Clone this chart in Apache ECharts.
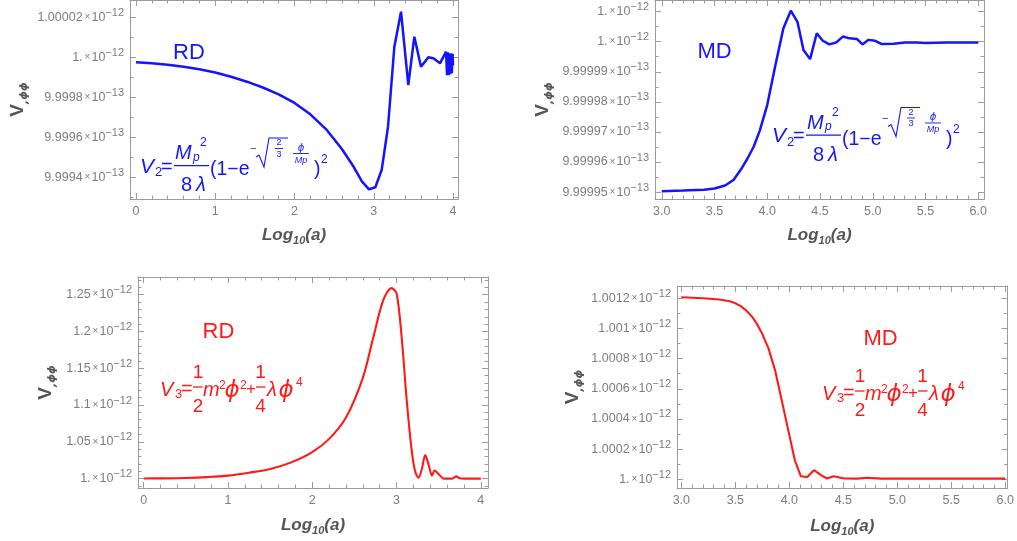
<!DOCTYPE html>
<html><head><meta charset="utf-8">
<script src="https://cdn.jsdelivr.net/npm/echarts@6/dist/echarts.min.js"></script>
<style>html,body{margin:0;padding:0;background:#fff}#c{width:1017px;height:541px}</style>
</head><body><div id="c"></div>
<script>
// All V,ϕϕ values are in units of 1e-12
const rdBlueX = [0, 0.2, 0.4, 0.6, 0.8, 1.0, 1.2, 1.4, 1.6, 1.8, 2.0, 2.2, 2.4, 2.6, 2.75, 2.85, 2.94, 3.02, 3.1, 3.18, 3.26, 3.344, 3.436, 3.512, 3.596, 3.689, 3.752, 3.836, 3.912, 3.925, 3.935, 3.945, 3.955, 3.965, 3.975, 3.985, 3.995, 4.0];
const rdBlueY = [0.9999975, 0.999997, 0.9999963, 0.9999953, 0.999994, 0.9999924, 0.9999903, 0.9999878, 0.9999849, 0.9999815, 0.9999772, 0.9999715, 0.999964, 0.999954, 0.999945, 0.999938, 0.999934, 0.999935, 0.99994365, 0.9999653, 1.0000053, 1.0000228, 0.99998615, 1.0000103, 0.9999953, 1.0, 0.9999995, 0.999997, 1.0000028, 0.999991, 1.0000025, 0.999991, 1.000002, 0.9999915, 1.000002, 0.999992, 1.0000018, 0.999996];

const mdBlueX = [3.0, 3.2, 3.4, 3.5, 3.6, 3.68, 3.75, 3.81, 3.87, 3.93, 4.0, 4.074, 4.153, 4.223, 4.286, 4.343, 4.406, 4.469, 4.526, 4.589, 4.652, 4.716, 4.779, 4.849, 4.902, 4.959, 5.022, 5.086, 5.196, 5.307, 5.418, 5.5, 5.7, 5.85, 6.0];
const mdBlueY = [0.99999503, 0.99999505, 0.99999508, 0.99999512, 0.99999522, 0.9999954, 0.99999575, 0.9999961, 0.9999965, 0.99999705, 0.9999979, 0.99999917, 1.00000045, 1.00000103, 1.00000066, 0.99999972, 0.99999942, 1.00000028, 1.00000003, 0.99999991, 0.99999997, 1.00000017, 1.00000011, 1.00000009, 0.99999991, 1.00000006, 1.00000003, 0.99999992, 0.99999993, 0.99999997, 0.99999997, 0.99999996, 0.99999997, 0.99999997, 0.99999997];

const rdRedX = [0, 0.25, 0.5, 0.75, 1.0, 1.25, 1.5, 1.75, 2.0, 2.2, 2.4, 2.6, 2.72, 2.84, 2.94, 3.0, 3.06, 3.12, 3.18, 3.22, 3.26, 3.3, 3.34, 3.38, 3.42, 3.45, 3.5, 3.56, 3.62, 3.66, 3.71, 3.75, 3.8, 3.9, 4.0];
const rdRedY = [1.0002, 1.0003, 1.0008, 1.002, 1.004, 1.008, 1.013, 1.022, 1.036, 1.054, 1.083, 1.137, 1.19, 1.242, 1.259, 1.252, 1.193, 1.107, 1.038, 1.01, 1.001, 1.013, 1.032, 1.019, 1.004, 1.011, 1.006, 1.0, 1.0, 1.0, 1.003, 1.0005, 1.0, 1.0, 1.0];

const mdRedX = [3.0, 3.2, 3.35, 3.45, 3.5, 3.55, 3.6, 3.655, 3.7, 3.747, 3.807, 3.868, 3.929, 3.99, 4.051, 4.106, 4.166, 4.228, 4.294, 4.349, 4.41, 4.508, 4.63, 4.72, 4.85, 5.0, 5.5, 6.0];
const mdRedY = [1.0012074, 1.0012, 1.001192, 1.00118, 1.001167, 1.001148, 1.00112, 1.001078, 1.00103, 1.000968, 1.000868, 1.000724, 1.000525, 1.000326, 1.000126, 1.00002, 1.000015, 1.00006, 1.000027, 1.000005, 1.00002, 1.000005, 1.000004, 1.00001, 1.000004, 1.000004, 1.000004, 1.000004];

// tick values and labels
const xTicksRD = [0, 1, 2, 3, 4];
const xLabelsRD = ['0', '1', '2', '3', '4'];
const xTicksMD = [3.0, 3.5, 4.0, 4.5, 5.0, 5.5, 6.0];
const xLabelsMD = ['3.0', '3.5', '4.0', '4.5', '5.0', '5.5', '6.0'];

const yTicks1 = [0.99994, 0.99996, 0.99998, 1.0, 1.00002];
const yMant1 = ['9.9994', '9.9996', '9.9998', '1.', '1.00002'];
const yExp1 = ['−13', '−13', '−13', '−12', '−12'];

const yTicks2 = [0.999995, 0.999996, 0.999997, 0.999998, 0.999999, 1.0, 1.000001];
const yMant2 = ['9.99995', '9.99996', '9.99997', '9.99998', '9.99999', '1.', '1.'];
const yExp2 = ['−13', '−13', '−13', '−13', '−13', '−12', '−12'];

const yTicks3 = [1.0, 1.05, 1.1, 1.15, 1.2, 1.25];
const yMant3 = ['1.', '1.05', '1.1', '1.15', '1.2', '1.25'];
const yExp3 = ['−12', '−12', '−12', '−12', '−12', '−12'];

const yTicks4 = [1.0, 1.0002, 1.0004, 1.0006, 1.0008, 1.001, 1.0012];
const yMant4 = ['1.', '1.0002', '1.0004', '1.0006', '1.0008', '1.001', '1.0012'];
const yExp4 = ['−12', '−12', '−12', '−12', '−12', '−12', '−12'];

const FF = '"Liberation Sans", Arial, sans-serif';
const FPHI = '"DejaVu Sans", sans-serif';
const frameColor = '#9b9b9b';
const labelColor = '#7d7d7d';
const titleColor = '#555555';
const BLUE = '#1414ff';
const RED = '#ff1a1a';

const panels = [
  {grid: {left: 130, top: 0, width: 328, height: 199}, xr: [-0.0757, 4.063], yr: [0.99992915, 1.00002865],
   xt: xTicksRD, xl: xLabelsRD, xm: 0.2, yt: yTicks1, yMant: yMant1, yExp: yExp1, ym: 0.00001,
   X: rdBlueX, Y: rdBlueY, color: BLUE, lw: 2.5, smooth: false, xGap: 25, yGap: 100},
  {grid: {left: 655, top: 0, width: 329, height: 199}, xr: [2.936, 6.054], yr: [0.99999477, 1.0000013854],
   xt: xTicksMD, xl: xLabelsMD, xm: 0.1, yt: yTicks2, yMant: yMant2, yExp: yExp2, ym: 0.0000005,
   X: mdBlueX, Y: mdBlueY, color: BLUE, lw: 2.5, smooth: false, xGap: 25, yGap: 100},
  {grid: {left: 138, top: 277, width: 350, height: 211}, xr: [-0.068, 4.085], yr: [0.98719, 1.2741],
   xt: xTicksRD, xl: xLabelsRD, xm: 0.2, yt: yTicks3, yMant: yMant3, yExp: yExp3, ym: 0.01,
   X: rdRedX, Y: rdRedY, color: RED, lw: 2.1, smooth: 0.3, xGap: 26, yGap: 80},
  {grid: {left: 677, top: 286, width: 335, height: 202}, xr: [2.96, 6.021], yr: [0.999942, 1.0012817],
   xt: xTicksMD, xl: xLabelsMD, xm: 0.1, yt: yTicks4, yMant: yMant4, yExp: yExp4, ym: 0.0001,
   X: mdRedX, Y: mdRedY, color: RED, lw: 2.1, smooth: false, xGap: 27, yGap: 92}
];

function minors(lo, hi, step, majors) {
  const out = [];
  const n0 = Math.ceil(lo / step - 1e-9), n1 = Math.floor(hi / step + 1e-9);
  for (let n = n0; n <= n1; n++) {
    const v = n * step;
    if (!majors.some(m => Math.abs(m - v) < step * 1e-3)) out.push(v);
  }
  return out;
}
function nearest(arr, v) {
  let k = 0, b = Infinity;
  arr.forEach((t, i) => { const d = Math.abs(t - v); if (d < b) { b = d; k = i; } });
  return k;
}

const grids = [], xAxes = [], yAxes = [], series = [];
panels.forEach((p, i) => {
  grids.push(Object.assign({}, p.grid));
  const xMin = minors(p.xr[0], p.xr[1], p.xm, p.xt);
  const yMin = minors(p.yr[0], p.yr[1], p.ym, p.yt);
  const bx = {type: 'value', gridIndex: i, min: p.xr[0], max: p.xr[1], splitLine: {show: false},
    axisLine: {show: true, onZero: false, lineStyle: {color: frameColor, width: 1}}, axisLabel: {show: false}};
  const by = {type: 'value', gridIndex: i, min: p.yr[0], max: p.yr[1], splitLine: {show: false},
    axisLine: {show: true, onZero: false, lineStyle: {color: frameColor, width: 1}}, axisLabel: {show: false}};
  const maj = vals => ({show: true, inside: true, length: 6, customValues: vals, lineStyle: {color: frameColor, width: 1}});
  const mnr = vals => ({show: true, inside: true, length: 3.5, customValues: vals, lineStyle: {color: frameColor, width: 1}});
  xAxes.push(Object.assign({}, bx, {position: 'bottom', axisTick: maj(p.xt),
    axisLabel: {show: true, customValues: p.xt, color: labelColor, fontSize: 12.5, fontFamily: FF, margin: 6,
      formatter: v => p.xl[nearest(p.xt, v)]},
    name: '{a|Log}{s|10}{a|(a)}', nameLocation: 'middle', nameGap: p.xGap,
    nameTextStyle: {rich: {
      a: {fontSize: 17, fontWeight: 'bold', fontStyle: 'italic', color: titleColor, fontFamily: FF, lineHeight: 22},
      s: {fontSize: 11, fontWeight: 'bold', fontStyle: 'italic', color: titleColor, fontFamily: FF, lineHeight: 12, verticalAlign: 'bottom'}}}}));
  xAxes.push(Object.assign({}, bx, {position: 'top', axisTick: maj(p.xt)}));
  xAxes.push(Object.assign({}, bx, {position: 'top', axisLine: {show: false, onZero: false}, axisTick: mnr(xMin)}));
  xAxes.push(Object.assign({}, bx, {position: 'bottom', axisLine: {show: false, onZero: false}, axisTick: mnr(xMin)}));
  yAxes.push(Object.assign({}, by, {position: 'left', axisTick: maj(p.yt),
    axisLabel: {show: true, customValues: p.yt, margin: 6,
      formatter: v => { const k = nearest(p.yt, v); return '{m|' + p.yMant[k] + '}{x|×}{m|10}{e|' + p.yExp[k] + '}'; },
      rich: {
        m: {fontSize: 12.5, color: labelColor, fontFamily: FF, lineHeight: 20},
        x: {fontSize: 10, color: labelColor, fontFamily: FF, padding: [0, 1, 0, 2], lineHeight: 20},
        e: {fontSize: 11, color: labelColor, fontFamily: FF, lineHeight: 10, verticalAlign: 'top'}}},
    name: '{v|V}{s|,ϕϕ}', nameLocation: 'middle', nameGap: p.yGap, nameRotate: 90,
    nameTextStyle: {rich: {
      v: {fontSize: 19, fontWeight: 'bold', color: titleColor, fontFamily: FF, lineHeight: 24},
      s: {fontSize: 11, fontWeight: 'bold', fontStyle: 'italic', color: titleColor, fontFamily: FPHI, lineHeight: 12, verticalAlign: 'bottom'}}}}));
  yAxes.push(Object.assign({}, by, {position: 'right', axisTick: maj(p.yt)}));
  yAxes.push(Object.assign({}, by, {position: 'right', axisLine: {show: false, onZero: false}, axisTick: mnr(yMin)}));
  yAxes.push(Object.assign({}, by, {position: 'left', axisLine: {show: false, onZero: false}, axisTick: mnr(yMin)}));
  series.push({type: 'line', xAxisIndex: 4 * i, yAxisIndex: 4 * i, showSymbol: false, symbol: 'none',
    smooth: p.smooth, lineStyle: {color: p.color, width: p.lw}, itemStyle: {color: p.color},
    data: p.X.map((x, j) => [x, p.Y[j]]), z: 3});
});

// ---- annotations (text) ----
const G = [];
function txt(x, y, s, size, color, o) {
  o = o || {};
  G.push({type: 'text', x: x, y: y, silent: true, z: 20,
    style: {text: s, fill: color, font: (o.it ? 'italic ' : '') + (size) + 'px ' + (o.f || FF),
      textAlign: o.al || 'left', textVerticalAlign: 'middle'}});
}
function ln(x1, y1, x2, y2, color, w) {
  G.push({type: 'line', silent: true, z: 20, shape: {x1: x1, y1: y1, x2: x2, y2: y2}, style: {stroke: color, lineWidth: w || 1.2}});
}
function pl(pts, color, w) {
  G.push({type: 'polyline', silent: true, z: 20, shape: {points: pts}, style: {stroke: color, fill: null, lineWidth: w || 1}});
}
function formulaV2(ox, oy, c) {
  txt(ox, oy - 8, 'V', 21, c, {it: 1});
  txt(ox + 15, oy - 2.5, '2', 13, c);
  txt(ox + 21, oy - 8, '=', 20, c);
  ln(ox + 34, oy - 9.3, ox + 69, oy - 9.3, c, 1.3);
  txt(ox + 35, oy - 21.5, 'M', 20, c, {it: 1});
  txt(ox + 53, oy - 17.5, 'p', 12, c, {it: 1});
  txt(ox + 60, oy - 32, '2', 12, c);
  txt(ox + 41, oy + 10.5, '8', 20, c);
  txt(ox + 56, oy + 10.5, 'λ', 20, c, {it: 1});
  txt(ox + 70, oy - 5, '(1−e', 19.5, c);
  txt(ox + 110, oy - 26, '−', 11, c);
  pl([[ox + 116, oy - 18], [ox + 119, oy - 20], [ox + 124, oy - 8], [ox + 129, oy - 37], [ox + 148, oy - 37]], c, 1.1);
  txt(ox + 139, oy - 32, '2', 9, c, {al: 'center'});
  ln(ox + 135, oy - 26.5, ox + 143, oy - 26.5, c, 0.9);
  txt(ox + 139, oy - 20.5, '3', 9, c, {al: 'center'});
  txt(ox + 161, oy - 27, 'ϕ', 10, c, {al: 'center', it: 1, f: FPHI});
  ln(ox + 153, oy - 21.5, ox + 169, oy - 21.5, c, 0.9);
  txt(ox + 161, oy - 15, 'Mp', 9, c, {al: 'center', it: 1});
  txt(ox + 174, oy - 5, ')', 19.5, c);
  txt(ox + 181, oy - 15, '2', 12, c);
}
function formulaV3(ox, oy, c) {
  txt(ox, oy - 7, 'V', 20, c, {it: 1});
  txt(ox + 15, oy - 2.5, '3', 13, c);
  txt(ox + 21, oy - 8, '=', 20, c);
  txt(ox + 38, oy - 24, '1', 19, c, {al: 'center'});
  ln(ox + 33, oy - 10, ox + 42.5, oy - 10, c, 1.3);
  txt(ox + 38, oy + 9.5, '2', 19, c, {al: 'center'});
  txt(ox + 43, oy - 7, 'm', 20, c, {it: 1});
  txt(ox + 59, oy - 11, '2', 12, c);
  txt(ox + 72, oy - 6, 'ϕ', 23, c, {al: 'center', it: 1, f: FPHI});
  txt(ox + 80, oy - 11, '2', 12, c);
  txt(ox + 86, oy - 8, '+', 17, c);
  txt(ox + 100.5, oy - 24, '1', 19, c, {al: 'center'});
  ln(ox + 96, oy - 10, ox + 105.5, oy - 10, c, 1.3);
  txt(ox + 100.5, oy + 9.5, '4', 19, c, {al: 'center'});
  txt(ox + 107, oy - 7, 'λ', 20, c, {it: 1});
  txt(ox + 126, oy - 6, 'ϕ', 23, c, {al: 'center', it: 1, f: FPHI});
  txt(ox + 136, oy - 14, '4', 12, c);
}
txt(189, 52.5, 'RD', 22, BLUE, {al: 'center'});
txt(714.5, 51.5, 'MD', 22, BLUE, {al: 'center'});
txt(218.5, 331.5, 'RD', 22, RED, {al: 'center'});
txt(880.5, 338.5, 'MD', 22, RED, {al: 'center'});
formulaV2(140, 175, BLUE);
formulaV2(772, 144.5, BLUE);
formulaV3(160, 397, RED);
formulaV3(822, 401, RED);

const chart = echarts.init(document.getElementById('c'), null, {renderer: 'canvas'});
chart.setOption({
  animation: false,
  backgroundColor: '#ffffff',
  grid: grids, xAxis: xAxes, yAxis: yAxes, series: series,
  graphic: {elements: G}
});
</script></body></html>
